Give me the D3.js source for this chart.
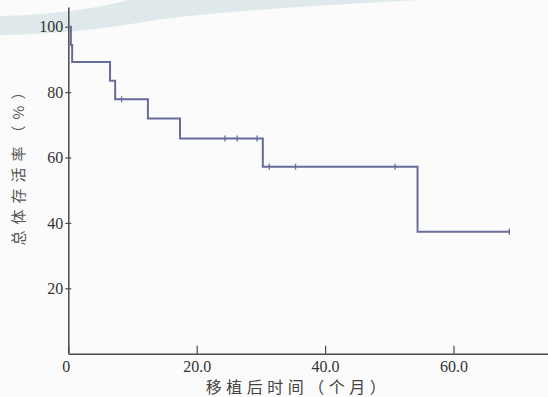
<!DOCTYPE html>
<html>
<head>
<meta charset="utf-8">
<script src="https://cdn.jsdelivr.net/npm/d3@7/dist/d3.min.js"></script>
<style>
html,body{margin:0;padding:0;background:#fbfbfb;}
svg{display:block;}
</style>
</head>
<body>
<svg id="chart" width="548" height="397"></svg>
<script>
// Kaplan-Meier step points (months, survival %)
const eventTimes = [0, 0.4, 0.6, 6.5, 7.3, 12.4, 17.4, 30.3, 54.4, 68.7];
const survival   = [100, 94.4, 89.2, 83.5, 77.8, 71.9, 65.8, 57.2, 37.3, 37.3];
// censored observations (months)
const censorTimes = [8.3, 24.4, 26.3, 29.4, 31.3, 35.4, 50.9, 68.7];
const xTicks = [0, 20, 40, 60];
const xTickLabels = ["0", "20.0", "40.0", "60.0"];
const yTicks = [20, 40, 60, 80, 100];
const xTitle = "移植后时间（个月）";
const yTitle = "总体存活率（%）";

const SERIF = "'Liberation Serif', 'Tinos', 'Times New Roman', 'DejaVu Serif', serif";
const CJK = "'Noto Sans CJK SC', sans-serif";

const svg = d3.select("#chart");

// faint watermark swoosh
svg.append("path")
  .attr("d", "M0,16 C50,15 95,9 128,0 L420,0 C320,5 210,12 150,21 C110,28 60,34 0,35 Z")
  .attr("fill", "#dfe9eb");

const x = d3.scaleLinear().domain([0, 75]).range([68.3, 549.8]);
const y = d3.scaleLinear().domain([0, 106]).range([353.7, 7.1]);

const axisColor = "#4a4a4a";

// X axis
const xAxis = d3.axisBottom(x).tickValues(xTicks)
  .tickFormat((d, i) => i === 0 ? "" : xTickLabels[i])
  .tickSizeInner(-8).tickSizeOuter(0).tickPadding(7);
const gx = svg.append("g").attr("transform", `translate(0,${y(0)})`).call(xAxis);
gx.attr("font-family", SERIF).attr("font-size", 16);
gx.select(".domain").attr("stroke", axisColor).attr("stroke-width", 1.5);
gx.selectAll(".tick line").attr("stroke", axisColor).attr("stroke-width", 1.2);
gx.selectAll("text").style("font-family", SERIF).style("font-size", "16px").attr("fill", "#333");

// Y axis
const yAxis = d3.axisLeft(y).tickValues(yTicks).tickFormat(d3.format("d"))
  .tickSizeInner(3).tickSizeOuter(0).tickPadding(2);
const gy = svg.append("g").attr("transform", `translate(${x(0)},0)`).call(yAxis);
gy.attr("font-family", SERIF).attr("font-size", 16);
gy.select(".domain").attr("stroke", axisColor).attr("stroke-width", 1.5);
gy.selectAll(".tick line").attr("stroke", axisColor).attr("stroke-width", 1.2).attr("x2", 3).attr("x1", -3);
gy.selectAll("text").style("font-family", SERIF).style("font-size", "16px").attr("fill", "#333");

// origin label
svg.append("text").attr("x", x(0) - 2).attr("y", y(0) + 18)
  .attr("text-anchor", "middle").style("font-family", SERIF).style("font-size", "16px")
  .attr("fill", "#333").text(xTickLabels[0]);

// axis titles
svg.append("text").attr("x", 298).attr("y", 393)
  .attr("text-anchor", "middle").style("font-family", CJK).style("font-size", "16px")
  .style("letter-spacing", "4.5px").attr("fill", "#444").text(xTitle);
svg.append("text").attr("transform", "translate(24,162) rotate(-90)")
  .attr("text-anchor", "middle").style("font-family", CJK).style("font-size", "15px")
  .style("letter-spacing", "6px").attr("fill", "#555").text(yTitle);

// survival curve
const pts = eventTimes.map((t, i) => [t, survival[i]]);
const line = d3.line().x(d => x(d[0])).y(d => y(d[1])).curve(d3.curveStepAfter);
const curveColor = "#676c9c";
svg.append("path").datum(pts).attr("d", line)
  .attr("fill", "none").attr("stroke", curveColor).attr("stroke-width", 2);

// censor marks
function survAt(t) {
  let s = survival[0];
  for (let i = 0; i < eventTimes.length; i++) if (eventTimes[i] <= t) s = survival[i];
  return s;
}
svg.selectAll(".cens").data(censorTimes).enter().append("line")
  .attr("x1", d => x(d)).attr("x2", d => x(d))
  .attr("y1", d => y(survAt(d)) - 3).attr("y2", d => y(survAt(d)) + 3)
  .attr("stroke", curveColor).attr("stroke-width", 1.3);
</script>
</body>
</html>
